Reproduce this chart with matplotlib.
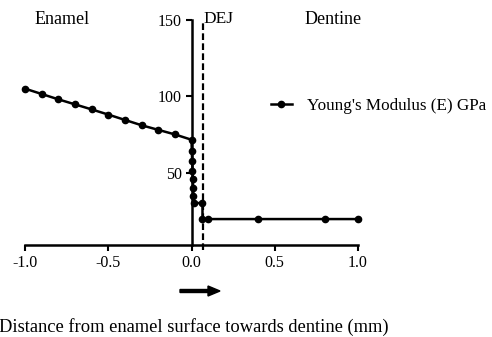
import matplotlib
matplotlib.use("Agg")
import matplotlib.pyplot as plt

plt.rcParams['font.family'] = ['Liberation Serif', 'DejaVu Serif']

# Data
distance_mm = [-1.0, -0.9, -0.8, -0.7, -0.6, -0.5, -0.4, -0.3, -0.2, -0.1, 0.0,
               0.002, 0.004, 0.006, 0.008, 0.010, 0.012, 0.014,
               0.066, 0.066, 0.1, 0.4, 0.8, 1.0]
youngs_modulus = [105, 101.5, 98, 94.7, 91.4, 88, 84.5, 81, 78, 75, 71.5,
                  64, 57.5, 51, 45.5, 40, 34.5, 30,
                  30, 19.5, 19.5, 19.5, 19.5, 19.5]
dej_x = 0.068
x_ticks = [-1.0, -0.5, 0.0, 0.5, 1.0]
x_tick_labels = ['-1.0', '-0.5', '0.0', '0.5', '1.0']
y_ticks = [50, 100, 150]
series_label = "Young's Modulus (E) GPa"

fig = plt.figure(figsize=(4.92, 3.37), dpi=100)
ax = fig.add_axes([25/492, 92/337, 333/492, 225/337])

line, = ax.plot(distance_mm, youngs_modulus, color='black', lw=1.8,
                marker='o', ms=4.5, zorder=3, clip_on=False)
ax.axvline(dej_x, ymin=-0.02, ymax=1.0, color='black', lw=1.6,
           ls=(0, (3, 1.5)), clip_on=False)

ax.set_xlim(-1.0, 1.0)
ax.set_ylim(2.5, 150)

for s in ['top', 'right']:
    ax.spines[s].set_visible(False)
ax.spines['left'].set_position(('data', 0))
ax.spines['left'].set_linewidth(1.8)
ax.spines['bottom'].set_linewidth(1.8)

ax.set_xticks(x_ticks)
ax.set_xticklabels(x_tick_labels, fontsize=11.5)
ax.set_yticks(y_ticks)
ax.set_yticklabels([str(v) for v in y_ticks], fontsize=11.5)
ax.tick_params(axis='both', direction='out', length=4, width=1.5, pad=3)

ax.text(-0.78, 150.5, 'Enamel', ha='center', va='center', fontsize=13)
ax.text(0.16, 150.5, 'DEJ', ha='center', va='center', fontsize=12.5)
ax.text(0.85, 150.5, 'Dentine', ha='center', va='center', fontsize=13)

# legend
fig.legend([line], [series_label], loc='center left',
           bbox_to_anchor=(271/492, 1 - 106/337), frameon=False,
           fontsize=12.3, handlelength=1.2, handletextpad=0.9,
           borderpad=0, borderaxespad=0)

# arrow
fig.patches.append(matplotlib.patches.FancyArrow(
    180/492, 1 - 291/337, 40/492, 0, width=3/337, head_width=10/337,
    head_length=12/492, length_includes_head=True, color='black',
    transform=fig.transFigure, figure=fig))

fig.text(194/492, 1 - 327/337, 'Distance from enamel surface towards dentine (mm)',
         ha='center', va='center', fontsize=13.3)

fig.savefig('out.png', dpi=100)
